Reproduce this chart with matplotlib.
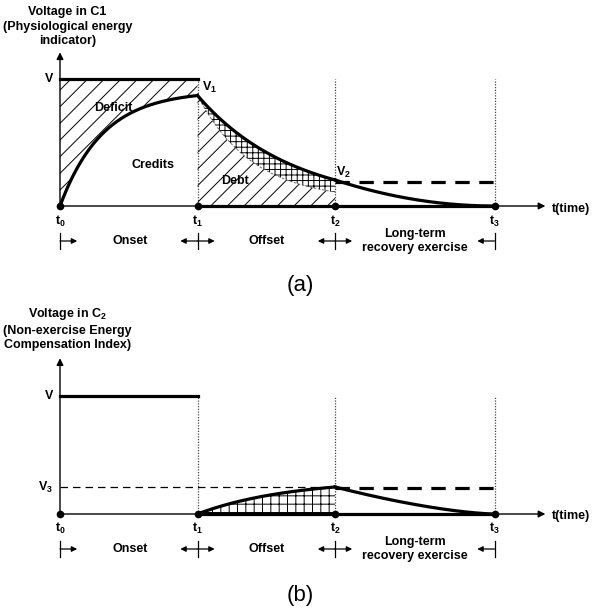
import numpy as np
import matplotlib
matplotlib.use("Agg")
import matplotlib.pyplot as plt

plt.rcParams['font.family'] = ['Liberation Sans', 'DejaVu Sans']
plt.rcParams['mathtext.fontset'] = 'custom'
plt.rcParams['mathtext.rm'] = 'Liberation Sans:bold'
plt.rcParams['mathtext.it'] = 'Liberation Sans:bold'
plt.rcParams['mathtext.bf'] = 'Liberation Sans:bold'
plt.rcParams['hatch.linewidth'] = 0.7

# ---- data (schematic key values) ----
t_points = [0.0, 1.0, 2.0, 3.16]
t_labels = ['t$_{0}$', 't$_{1}$', 't$_{2}$', 't$_{3}$']
phase_labels = ['Onset', 'Offset', 'Long-term\nrecovery exercise']
phase_pos = [0.51, 1.5, 2.58]

v_level = 1.0          # V
v1 = 0.87              # V1 (end of onset)
v2 = 0.205             # V2 (end of offset)
v2_dash = 0.19         # dashed level after t2 in (a)
inner_end = 0.11       # inner (debt/crosshatch) boundary at t2
inner_rate = 2.5
onset_rate = 3.2
v3 = 0.229             # V3 in (b)
v3_dash = 0.22
rise_rate = 1.5

t0, t1, t2, t3 = t_points

fig = plt.figure(figsize=(6.0, 6.1), dpi=100)
ax_a = fig.add_axes([0, 310 / 610, 1, 300 / 610])
ax_b = fig.add_axes([0, 0, 1, 310 / 610])
xlim = (-60 / 137.5, 540 / 137.5)
ax_a.set_xlim(*xlim)
ax_a.set_ylim(-(300 - 206) / 127, 206 / 127)
ax_b.set_xlim(*xlim)
ax_b.set_ylim(-(610 - 514) / 118, (514 - 300) / 118)
for ax in (ax_a, ax_b):
    ax.axis('off')

bold = dict(fontweight='bold', fontsize=9)
thick = 2.3
phase_row = {ax_a: -(241 - 206) / 127, ax_b: -(549 - 514) / 118}


def axes_frame(ax, ytop, tick_h):
    ax.annotate('', xy=(0, ytop), xytext=(0, 0),
                arrowprops=dict(arrowstyle='-|>', lw=1.0, color='black',
                                mutation_scale=10, shrinkA=0, shrinkB=0))
    ax.annotate('', xy=(3.53, 0), xytext=(0, 0),
                arrowprops=dict(arrowstyle='-|>', lw=1.0, color='black',
                                mutation_scale=10, shrinkA=0, shrinkB=0))
    ax.text(3.58, -0.02, 't(time)', ha='left', va='center', **bold)
    ax.plot(t_points, [0] * 4, 'o', color='black', ms=4.5, zorder=6)
    for tp, lab in zip(t_points, t_labels):
        ax.text(tp, -0.06, lab, ha='center', va='top', **bold)
    yrow = phase_row[ax]
    al = 0.125
    for i, tp in enumerate(t_points):
        ax.plot([tp, tp], [yrow - tick_h / 2, yrow + tick_h / 2], color='black', lw=0.9)
        dirs = []
        if i < 3:
            dirs.append(1)
        if i > 0:
            dirs.append(-1)
        for d in dirs:
            ax.annotate('', xy=(tp + d * al, yrow), xytext=(tp, yrow),
                        arrowprops=dict(arrowstyle='-|>', lw=0.9, color='black',
                                        mutation_scale=8, shrinkA=0, shrinkB=0))
    for p, lab in zip(phase_pos, phase_labels):
        ax.text(p, yrow, lab, ha='center', va='center', linespacing=1.3, **bold)
    for tp in t_points[1:]:
        ax.plot([tp, tp], [0, v_level], linestyle=(0, (1, 1.2)), color='#444444', lw=0.9, zorder=1)


# ---------------- panel (a) ----------------
axes_frame(ax_a, 1.21, 0.13)
ta = np.linspace(t0, t1, 200)
onset = v1 * (1 - np.exp(-onset_rate * (ta - t0))) / (1 - np.exp(-onset_rate * (t1 - t0)))
ax_a.fill_between(ta, onset, v_level, facecolor='none', edgecolor='black', hatch='//', lw=0, zorder=2)
ax_a.plot(ta, onset, color='black', lw=thick, zorder=5)
ax_a.plot([t0, t1], [v_level, v_level], color='black', lw=thick, zorder=5)

tb = np.linspace(t1, t2, 200)
k_out = np.log(v1 / v2) / (t2 - t1)
outer = v1 * np.exp(-k_out * (tb - t1))
s = (tb - t1) / (t2 - t1)
inner = inner_end + (v1 - inner_end) * (np.exp(-inner_rate * s) - np.exp(-inner_rate)) / (1 - np.exp(-inner_rate))
ax_a.fill_between(tb, 0, inner, facecolor='none', edgecolor='black', hatch='//', lw=0, zorder=2)
ax_a.fill_between(tb, inner, outer, facecolor='none', edgecolor='black', hatch='+++', lw=0, zorder=2)
ax_a.plot(tb, inner, color='#555555', lw=0.6, linestyle=(0, (3, 2)), zorder=3)
ax_a.plot(tb, outer, color='black', lw=thick, zorder=5)

tc = np.linspace(t2, t3, 200)
tail = v2 * ((t3 - tc) / (t3 - t2)) ** 2
ax_a.plot(tc, tail, color='black', lw=thick, zorder=5)
ax_a.plot([t2, t3], [v2_dash, v2_dash], color='black', lw=thick, linestyle=(0, (4.5, 3)), zorder=5)
ax_a.plot([t1, t3], [0, 0], color='black', lw=thick, zorder=5)

ax_a.text(-0.05, v_level, 'V', ha='right', va='center', **bold)
ax_a.text(1.035, 0.93, 'V$_{1}$', ha='left', va='center', **bold)
ax_a.text(2.01, 0.265, 'V$_{2}$', ha='left', va='center', **bold)
ax_a.text(0.385, 0.77, 'Deficit', ha='center', va='center', **bold)
ax_a.text(0.676, 0.32, 'Credits', ha='center', va='center', **bold)
ax_a.text(1.27, 0.20, 'Debt', ha='center', va='center', **bold)
ax_a.text(0.055, (206 - 6) / 127, 'Voltage in C1\n(Physiological energy\nindicator)', ha='center', va='top',
          linespacing=1.3, **bold)
ax_a.text(1.745, -(285 - 206) / 127, '(a)', ha='center', va='center', fontsize=16)

# ---------------- panel (b) ----------------
axes_frame(ax_b, 1.32, 0.14)
ax_b.plot([t0, t1], [v_level, v_level], color='black', lw=thick, zorder=5)
rise = v3 * (1 - np.exp(-rise_rate * (tb - t1))) / (1 - np.exp(-rise_rate * (t2 - t1)))
ax_b.fill_between(tb, 0, rise, facecolor='none', edgecolor='black', hatch='++', lw=0, zorder=2)
ax_b.plot(tb, rise, color='black', lw=thick, zorder=5)
decay = v3 * ((t3 - tc) / (t3 - t2)) ** 1.5
ax_b.plot(tc, decay, color='black', lw=thick, zorder=5)
ax_b.plot([t0, t2], [v3, v3], color='black', lw=0.9, linestyle=(0, (6, 4)), zorder=4)
ax_b.plot([t2, t3], [v3_dash, v3_dash], color='black', lw=thick, linestyle=(0, (4.5, 3)), zorder=5)
ax_b.plot([t1, t3], [0, 0], color='black', lw=thick, zorder=5)

ax_b.text(-0.05, v_level, 'V', ha='right', va='center', **bold)
ax_b.text(-0.05, v3, 'V$_{3}$', ha='right', va='center', **bold)
ax_b.text(0.055, (514 - 306) / 118, 'Voltage in C$_{2}$\n(Non-exercise Energy\nCompensation Index)',
          ha='center', va='top', linespacing=1.3, **bold)
ax_b.text(1.745, -(595 - 514) / 118, '(b)', ha='center', va='center', fontsize=16)

fig.savefig('out.png', dpi=100, facecolor='white')
